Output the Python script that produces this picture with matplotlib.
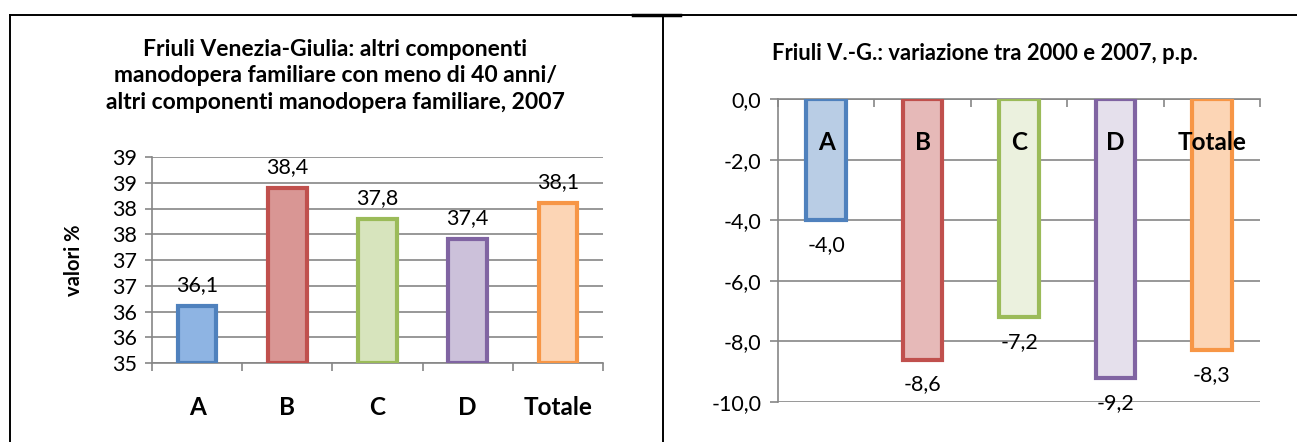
import numpy as np
import matplotlib
matplotlib.use('Agg')
import matplotlib.pyplot as plt
from matplotlib.lines import Line2D

plt.rcParams['font.family'] = ['Lato', 'DejaVu Sans']

# data
categories = ['A', 'B', 'C', 'D', 'Totale']
quota_2007 = [36.1, 38.4, 37.8, 37.4, 38.1]
variazione = [-4.0, -8.6, -7.2, -9.2, -8.3]

left_ticks = [35.0, 35.5, 36.0, 36.5, 37.0, 37.5, 38.0, 38.5, 39.0]
left_tick_labels = ['35', '36', '36', '37', '37', '38', '38', '39', '39']
right_ticks = [-10, -8, -6, -4, -2, 0]

edge_colors = ['#4F81BD', '#C0504D', '#9BBB59', '#8064A2', '#F79646']
fill_left = ['#8EB4E3', '#D99694', '#D7E4BD', '#CCC1DA', '#FCD5B5']
fill_right = ['#B9CDE5', '#E6B9B8', '#EBF1DE', '#E5E0EC', '#FCD5B5']

grid_col = '#868686'
W, H = 1297, 442
TICK_FS = 15.5
CAT_FS = 17.5

def fmt(v):
    return f'{v:.1f}'.replace('.', ',')

fig = plt.figure(figsize=(W / 100, H / 100), dpi=100)
fig.patch.set_facecolor('white')

# ---- left chart
ax1 = fig.add_axes([152 / W, 1 - 363 / H, 451 / W, 206 / H])
x = np.arange(len(categories))
base = left_ticks[0]
ax1.bar(x, np.array(quota_2007) - base, bottom=base, width=0.43,
        color=fill_left, edgecolor=edge_colors, linewidth=3, zorder=3)
ax1.set_xlim(-0.5, len(categories) - 0.5)
ax1.set_ylim(left_ticks[0], left_ticks[-1])
ax1.set_yticks(left_ticks)
ax1.set_yticklabels(left_tick_labels, fontsize=TICK_FS)
ax1.yaxis.grid(True, color=grid_col, linewidth=1.2, zorder=0)
ax1.set_xticks(np.arange(len(categories) + 1) - 0.5)
ax1.set_xticklabels([])
ax1.tick_params(axis='x', length=6, color=grid_col, width=1.2)
ax1.tick_params(axis='y', length=5, color=grid_col, width=1.2, pad=6)
for s in ['top', 'right']:
    ax1.spines[s].set_visible(False)
for s in ['left', 'bottom']:
    ax1.spines[s].set_color(grid_col)
    ax1.spines[s].set_linewidth(1.2)
for xi, v, c in zip(x, quota_2007, categories):
    ax1.annotate(fmt(v), (xi, v), xytext=(0, 15), textcoords='offset points',
                 ha='center', va='center', fontsize=TICK_FS)
    ax1.annotate(c, (xi, base), xytext=(0, -32), textcoords='offset points',
                 ha='center', va='center', fontsize=CAT_FS, fontweight='bold',
                 annotation_clip=False)
ax1.set_ylabel('valori %', fontsize=14.5, fontweight='bold', labelpad=20)
fig.text(335 / W, 1 - 76 / H,
         'Friuli Venezia-Giulia: altri componenti\n'
         'manodopera familiare con meno di 40 anni/\n'
         'altri componenti manodopera familiare, 2007',
         ha='center', va='center', fontsize=16.5, fontweight='bold',
         linespacing=1.3)

# ---- right chart
ax2 = fig.add_axes([778 / W, 1 - 402 / H, 482 / W, 303 / H])
ax2.bar(x, variazione, width=0.41, color=fill_right, edgecolor=edge_colors,
        linewidth=3, zorder=3)
ax2.set_xlim(-0.5, len(categories) - 0.5)
ax2.set_ylim(right_ticks[0], right_ticks[-1])
ax2.set_yticks(right_ticks)
ax2.set_yticklabels([fmt(t) for t in right_ticks], fontsize=TICK_FS)
ax2.yaxis.grid(True, color=grid_col, linewidth=1.2, zorder=0)
ax2.set_xticks(np.arange(len(categories) + 1) - 0.5)
ax2.set_xticklabels([])
ax2.xaxis.tick_top()
ax2.tick_params(axis='x', direction='in', length=6, color=grid_col, width=1.2)
ax2.tick_params(axis='y', length=6, color=grid_col, width=1.2, pad=6)
for s in ['right', 'bottom']:
    ax2.spines[s].set_visible(False)
for s in ['left', 'top']:
    ax2.spines[s].set_color(grid_col)
    ax2.spines[s].set_linewidth(1.2)
for xi, v, c in zip(x, variazione, categories):
    ax2.annotate(fmt(v), (xi, v), xytext=(0, -18), textcoords='offset points',
                 ha='center', va='center', fontsize=TICK_FS, zorder=5,
                 annotation_clip=False)
    ax2.annotate(c, (xi, 0), xytext=(0, -31), textcoords='offset points',
                 ha='center', va='center', fontsize=CAT_FS, fontweight='bold',
                 zorder=5)
fig.text(985 / W, 1 - 53 / H,
         'Friuli V.-G.: variazione tra 2000 e 2007, p.p.',
         ha='center', va='center', fontsize=15.8, fontweight='bold')

# ---- frame lines
yt = 1 - 15 / H
fig.add_artist(Line2D([10 / W, 1], [yt, yt], color='black', linewidth=1.4))
fig.add_artist(Line2D([633 / W, 680 / W], [yt, yt], color='black', linewidth=2.5))
fig.add_artist(Line2D([10 / W, 10 / W], [0, yt], color='black', linewidth=1.4))
fig.add_artist(Line2D([663 / W, 663 / W], [0, yt], color='black', linewidth=1.4))

fig.savefig('out.png', dpi=100, facecolor='white')
